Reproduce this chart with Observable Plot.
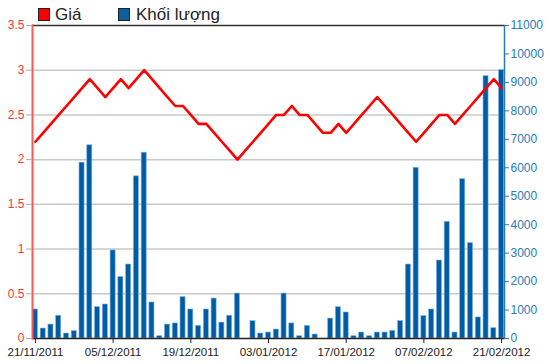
<!DOCTYPE html>
<html><head><meta charset="utf-8">
<script src="https://cdn.jsdelivr.net/npm/d3@7"></script>
<script src="https://cdn.jsdelivr.net/npm/@observablehq/plot@0.6"></script>
<style>
body{margin:0;background:#fff;font-family:"Liberation Sans",Arial,sans-serif;}
#wrap{position:relative;width:550px;height:364px;overflow:hidden;background:#fff}
#legend{position:absolute;left:0;top:0;width:550px;height:24px;z-index:2;font-size:17px;color:#222}
#legend .sw{position:absolute;top:8px;width:10px;height:11px;border:1px solid #222}
#legend .tx{position:absolute;top:6px;line-height:17px;white-space:nowrap}
#chart{padding-top:18px}
#chart svg{display:block}
</style></head><body>
<div id="wrap">
  <div id="legend">
    <span class="sw" style="left:38px;background:#ff0000"></span><span class="tx" style="left:55px">Giá</span>
    <span class="sw" style="left:118px;background:#0a5f9e"></span><span class="tx" style="left:136px">Khối lượng</span>
  </div>
  <div id="chart"></div>
</div>
<script>
const dates = [
  "21/11/2011","22/11/2011","23/11/2011","24/11/2011","25/11/2011","28/11/2011","29/11/2011","30/11/2011",
  "01/12/2011","02/12/2011","05/12/2011","06/12/2011","07/12/2011","08/12/2011","09/12/2011",
  "12/12/2011","13/12/2011","14/12/2011","15/12/2011","16/12/2011","19/12/2011","20/12/2011","21/12/2011",
  "22/12/2011","23/12/2011","26/12/2011","27/12/2011","28/12/2011","29/12/2011","30/12/2011",
  "03/01/2012","04/01/2012","05/01/2012","06/01/2012","09/01/2012","10/01/2012","11/01/2012","12/01/2012",
  "13/01/2012","16/01/2012","17/01/2012","18/01/2012","19/01/2012","20/01/2012","30/01/2012","31/01/2012",
  "01/02/2012","02/02/2012","03/02/2012","06/02/2012","07/02/2012","08/02/2012","09/02/2012","10/02/2012",
  "13/02/2012","14/02/2012","15/02/2012","16/02/2012","17/02/2012","20/02/2012","21/02/2012"
];
const price = [
  2.2,2.3,2.4,2.5,2.6,2.7,2.8,2.9,2.8,2.7,
  2.8,2.9,2.8,2.9,3.0,2.9,2.8,2.7,2.6,2.6,
  2.5,2.4,2.4,2.3,2.2,2.1,2.0,2.1,2.2,2.3,
  2.4,2.5,2.5,2.6,2.5,2.5,2.4,2.3,2.3,2.4,
  2.3,2.4,2.5,2.6,2.7,2.6,2.5,2.4,2.3,2.2,
  2.3,2.4,2.5,2.5,2.4,2.5,2.6,2.7,2.8,2.9,
  2.8
];
const volume = [
  1020,350,490,800,175,260,6180,6790,1100,1195,
  3095,2157,2600,5700,6530,1265,80,490,530,1455,
  1020,445,1020,1405,560,800,1580,0,610,175,
  210,316,1580,530,80,445,140,0,700,1100,
  915,80,210,80,210,210,270,610,2600,6000,
  785,1020,2740,4100,210,5600,3350,740,9220,365,
  9430
];
const tickDates = ["21/11/2011","05/12/2011","19/12/2011","03/01/2012","17/01/2012","07/02/2012","21/02/2012"];
const priceTicks = [0,0.5,1,1.5,2,2.5,3,3.5];
const volumeTicks = [0,1000,2000,3000,4000,5000,6000,7000,8000,9000,10000,11000];
const priceMax = 3.5, volumeMax = 11000;
const k = priceMax / volumeMax;

const data = dates.map((d, i) => ({date: d, price: price[i], volume: volume[i]}));

const plot = Plot.plot({
  width: 550, height: 346,
  marginLeft: 32, marginRight: 46, marginTop: 7, marginBottom: 26,
  style: {fontFamily: "Liberation Sans, Arial, sans-serif", background: "transparent", overflow: "visible"},
  x: {type: "band", domain: dates, paddingInner: 0.35, paddingOuter: 0.05},
  y: {domain: [0, priceMax]},
  marks: [
    Plot.gridY(priceTicks.filter(t => t > 0 && t < priceMax), {stroke: "#c8c8c8", strokeOpacity: 1, strokeWidth: 1.5}),
    Plot.barY(data, {x: "date", y: d => d.volume * k, fill: "#005ca3", stroke: "#7fb3e6", strokeWidth: 0.6}),
    Plot.line(data, {x: "date", y: "price", stroke: "#ff0000", strokeWidth: 2.6}),
    Plot.ruleY([priceMax], {stroke: "#333", strokeWidth: 1.5}),
    Plot.ruleY([0], {stroke: "#222", strokeWidth: 1.5}),
    Plot.frame({anchor: "left", stroke: "#ff5555", strokeWidth: 2}),
    Plot.frame({anchor: "right", stroke: "#2a7ab8", strokeWidth: 1.5}),
    Plot.axisY(priceTicks, {anchor: "left", tickFormat: d => String(d), fill: "#ff3333", stroke: "#aaa", tickSize: 6, tickPadding: 2, fontSize: 12, label: null}),
    Plot.axisY(volumeTicks.map(v => v * k), {anchor: "right", tickFormat: d => String(Math.round(d / k)), fill: "#2a7ab8", stroke: "#2a7ab8", tickSize: 4, tickPadding: 2, fontSize: 12, label: null}),
    Plot.axisX(tickDates, {anchor: "bottom", tickSize: 5, stroke: "#222", fill: "#222", fontSize: 11.5, tickPadding: 4, label: null})
  ]
});
document.getElementById("chart").appendChild(plot);
</script>
</body></html>
